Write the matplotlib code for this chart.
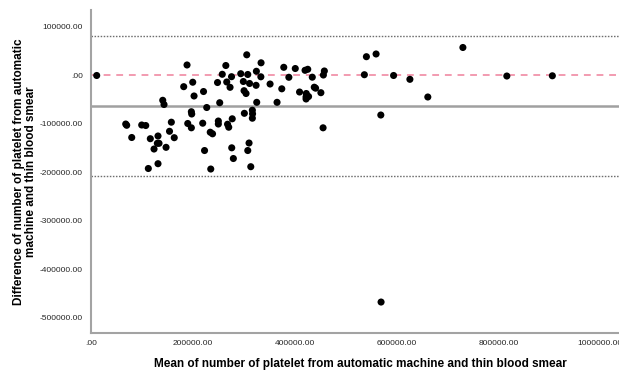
import numpy as np
import matplotlib
matplotlib.use("Agg")
import matplotlib.pyplot as plt
from matplotlib.ticker import FuncFormatter, MultipleLocator

# Bland-Altman plot: automatic counter vs thin blood smear platelet counts
mean_counts = [
    11200, 68200, 70100, 80000, 99600, 107500, 112600, 116500, 123800, 131600,
    130300, 133600, 131600, 140900, 143400, 147400, 154200, 157800, 163500, 182100,
    188600, 190000, 197100, 199800, 202400, 197100, 197800, 219400, 221000, 223000,
    227300, 234200, 238700, 235200, 248500, 252800, 250100, 250100, 257800, 264800,
    266600, 273100, 276000, 276400, 279600, 277400, 268200, 270500, 294100, 299200,
    300600, 304500, 305900, 307900, 310400, 307900, 311400, 313800, 316900, 317300,
    316900, 301200, 324800, 324200, 334000, 333600, 325500, 351700, 365400, 374700,
    378600, 388600, 401200, 409600, 420400, 425700, 422800, 422400, 427300, 422400,
    434600, 438500, 441100, 451500, 456400, 458300, 455800, 536900, 540900, 559900,
    569200, 569700, 594300, 626300, 661500, 730400, 816700, 906100,
]
diff_counts = [
    -400, -100600, -103200, -128400, -102600, -103700, -192400, -130900, -152200, -125300,
    -140400, -140400, -182500, -51600, -60300, -148700, -115600, -96800, -128800, -23500,
    21300, -99500, -108400, -14300, -42700, -75200, -79900, -98900, -33500, -155300,
    -66500, -117500, -120800, -193500, -14900, -56600, -94400, -100600, 2100, 20200,
    -13800, -24800, -2900, -149700, -171800, -89800, -101000, -107200, 3300, -12800,
    -31800, -37600, 42300, 1700, -139800, -155300, -16900, -188700, -72100, -79500,
    -88600, -78500, 8300, -20700, 25800, -3100, -55800, -18000, -55800, -27900,
    16500, -4100, 14000, -34500, 10300, 12400, -37600, -44400, -43800, -48900,
    -3900, -24600, -26600, -35900, 600, 8900, -108400, 1200, 38400, 44000,
    -82000, -468100, -400, -8300, -44800, 57400, -1500, -1000,
]

zero_line = 0
mean_diff = -62800
upper_loa = 81800
lower_loa = -207900

x_ticks = [0, 200000, 400000, 600000, 800000, 1000000]
y_ticks = [100000, 0, -100000, -200000, -300000, -400000, -500000]

plt.rcParams['font.family'] = ['Liberation Sans', 'DejaVu Sans']

fig = plt.figure(figsize=(6.19, 3.72), dpi=100)
ax = fig.add_axes([91/619, 1 - 333/372, 528/619, 323/372])

ax.axhline(upper_loa, color='#6e6e6e', lw=1.0, ls=(0, (1.1, 1.1)), zorder=1)
ax.axhline(lower_loa, color='#6e6e6e', lw=1.0, ls=(0, (1.1, 1.1)), zorder=1)
ax.axhline(zero_line, color='#f29bb0', lw=1.4, ls=(0, (3.5, 3.0)), zorder=1)
ax.axhline(mean_diff, color='#a0a0a0', lw=1.8, zorder=1)

ax.scatter(mean_counts, diff_counts, s=26, color='black', edgecolors='none', zorder=3)

ax.set_xlim(0, 1037000)
ax.set_ylim(-532000, 134800)
ax.set_xticks(x_ticks)
ax.set_yticks(y_ticks)

def spss_fmt(v, pos):
    s = "%.2f" % v
    if s.startswith("0."):
        s = s[1:]
    if s == "-0.00":
        s = ".00"
    return s

ax.xaxis.set_major_formatter(FuncFormatter(spss_fmt))
ax.yaxis.set_major_formatter(FuncFormatter(spss_fmt))
ax.tick_params(length=0, labelsize=6, labelcolor='#262626')
ax.tick_params(axis='y', pad=6)
ax.tick_params(axis='x', pad=5)

for side in ['top', 'right']:
    ax.spines[side].set_visible(False)
for side in ['left', 'bottom']:
    ax.spines[side].set_color('#a3a3a3')
    ax.spines[side].set_linewidth(1.5)

ax.set_xlabel("Mean of number of platelet from automatic machine and thin blood smear",
              fontsize=8.5, fontweight='bold', va='center')
ax.xaxis.set_label_coords((360 - 91) / 528, (333 - 364) / 323)
ax.set_ylabel("Difference of number of platelet from automatic\nmachine and thin blood smear",
              fontsize=8.5, fontweight='bold', va='center', linespacing=1.1)
ax.yaxis.set_label_coords((25 - 91) / 528, (333 - 172) / 323)

fig.savefig("out.png", dpi=100)
